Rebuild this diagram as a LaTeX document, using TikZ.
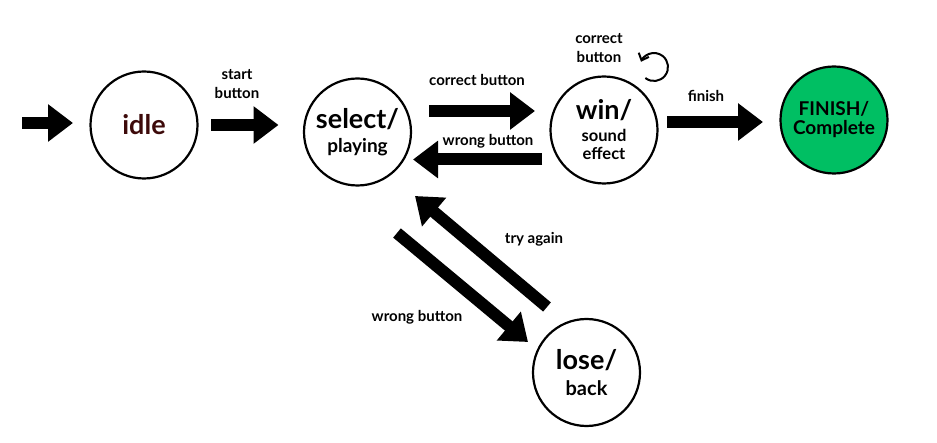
\documentclass[tikz,border=0pt]{standalone}
\usepackage{fontspec}
\setmainfont{Lato}
\usetikzlibrary{arrows.meta,calc}
\definecolor{fingreen}{HTML}{00BF63}
\definecolor{idlecol}{HTML}{3D0A0A}
\begin{document}
\begin{tikzpicture}[x=1pt,y=-1pt,
  state/.style={circle,draw=black,line width=2.2pt,minimum size=107pt,inner sep=0pt,align=center,font=\bfseries},
  blk/.style={line width=12pt,-{Triangle[width=36pt,length=25pt]}},
  lbl/.style={font=\bfseries\fontsize{15}{19}\selectfont,align=center,inner sep=0pt}]
\useasboundingbox (0,0) rectangle (937,443);
% states
\node[state] (idle) at (144,125) {\fontsize{27}{30}\selectfont\color{idlecol}idle};
\node[state] (select) at (357.5,132) {\fontsize{27}{30}\selectfont select/\\[7pt]\fontsize{19}{26}\selectfont playing};
\node[state] (win) at (604,130) {\fontsize{27}{30}\selectfont win/\\[7pt]\fontsize{16.5}{19}\selectfont sound\\[5pt]\fontsize{16.5}{19}\selectfont effect};
\node[state,fill=fingreen] (fin) at (834,120) {\fontsize{19}{23}\selectfont FINISH/\\[3pt]\fontsize{19}{23}\selectfont Complete};
\node[state] (lose) at (586.5,372.5) {\fontsize{27}{30}\selectfont lose/\\[9pt]\fontsize{20}{28}\selectfont back};
% arrow end points
\coordinate (e0) at (22,123);
\coordinate (e1) at (73,123);
\coordinate (s0) at ($(idle.center)+(67,0)$);
\coordinate (s1) at ($(select.center)+(-79,-7)$);
\coordinate (c0) at (429,111);
\coordinate (c1) at (535,111);
\coordinate (w0) at (542,159.5);
\coordinate (w1) at (413,159.5);
\coordinate (f0) at (667,122);
\coordinate (f1) at (763,122);
\coordinate (d0) at (397,233);
\coordinate (d1) at (528,342);
\coordinate (t0) at (547,307);
\coordinate (t1) at (415,196);
% connectors
\draw[blk] (e0) -- (e1);
\draw[blk] (s0) -- (s1);
\draw[blk] (c0) -- (c1);
\draw[blk] (w0) -- (w1);
\draw[blk] (f0) -- (f1);
\draw[blk] (d0) -- (d1);
\draw[blk] (t0) -- (t1);
% self loop
\coordinate (lc) at (654,67);
\draw[line width=2pt,-{Straight Barb[length=6pt,width=11pt]}] ($(lc)+(128:14)$) arc[start angle=128,end angle=-158,radius=14];
% labels
\node[lbl] (lstart) at (237,84) {start\\button};
\node[lbl] (lcor) at (477,80) {correct button};
\node[lbl] (lwr) at (488,141) {wrong button};
\node[lbl] (lloop) at (599,48) {correct\\button};
\node[lbl] (lfin) at (706,96) {finish};
\node[lbl] (ltry) at (534,239) {try again};
\node[lbl] (lwr2) at (417,317) {wrong button};
\end{tikzpicture}
\end{document}
